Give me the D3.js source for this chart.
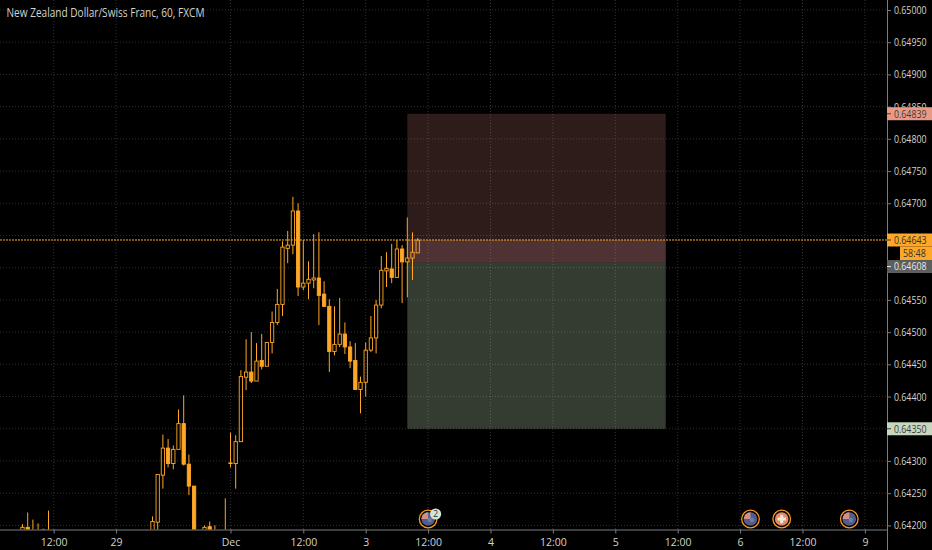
<!DOCTYPE html>
<html><head><meta charset="utf-8">
<script src="https://cdn.jsdelivr.net/npm/d3@7"></script>
<style>html,body{margin:0;padding:0;background:#000}svg{display:block}text{font-family:"Open Sans",sans-serif}</style>
</head><body><svg id="c" width="932" height="550"></svg>
<script>
// prices in points (price x 100000); null = bar lies below the visible range
const opens =[64190,64197,64185,64185,64192,64185,null,null,null,null,null,null,null,null,null,null,null,null,null,null,null,null,null,null,null,64190,64205,64278,64320,64296,64318,64358,64295,64261,null,64190,64198,64188,null,64188,64297,64296,64330,64430,64438,64424,64456,64447,64484,64515,64543,64630,64635,64688,64570,64576,64581,64584,64559,64540,64470,64481,64497,64477,64456,64411,64422,64472,64491,64542,64595,64598,64585,64629,64609,64615,64623];
const highs =[64202,64220,64209,64203,64195,64223,null,null,null,null,null,null,null,null,null,null,null,null,null,null,null,null,null,null,null,64214,64279,64341,64334,64324,64380,64402,64310,64261,null,64200,64206,64200,null,64242,64344,64340,64441,64489,64500,64483,64497,64484,64532,64567,64641,64657,64710,64700,64643,64610,64652,64655,64579,64551,64540,64553,64515,64486,64483,64431,64484,64525,64550,64618,64624,64637,64643,64635,64678,64655,64646];
const lows  =[64190,64190,64185,64185,64190,64185,null,null,null,null,null,null,null,null,null,null,null,null,null,null,null,null,null,null,null,64190,64190,64257,64290,64287,64318,64293,64247,64180,null,64190,64190,64185,null,64185,64290,64257,64330,64410,64421,64424,64442,64447,64467,64511,64525,64607,64621,64556,64565,64551,64568,64511,64539,64438,64464,64477,64466,64444,64411,64374,64400,64469,64467,64537,64570,64576,64584,64545,64554,64581,64623];
const closes=[64197,64190,64185,64185,64193,64185,null,null,null,null,null,null,null,null,null,null,null,null,null,null,null,null,null,null,null,64206,64279,64320,64296,64318,64358,64295,64261,64185,null,64197,64190,64188,null,64188,64296,64330,64431,64438,64424,64455,64447,64484,64515,64543,64632,64635,64688,64570,64576,64582,64584,64557,64540,64470,64481,64497,64477,64455,64411,64422,64472,64491,64542,64596,64599,64585,64629,64609,64615,64624,64643];

const priceTicks=[65000,64950,64900,64850,64800,64750,64700,64650,64600,64550,64500,64450,64400,64350,64300,64250,64200];
const coveredTicks=[64650,64600,64350];
const timeTickBars=[6,18,40,54,66,78,90,102,114,126,138,150,162];
const timeTickLabels=["12:00","29","Dec","12:00","3","12:00","4","12:00","5","12:00","6","12:00","9"];

const lastPrice=64643, countdown="58:48";
const stopPrice=64839, entryPrice=64608, targetPrice=64350;
const boxStartBar=74, boxEndBar=123.7;

const eventBars=[78,140,146,159];
const eventKinds=["NZ","NZ","CH","NZ"];
const eventBadgeText="2";
const titleText="New Zealand Dollar/Swiss Franc, 60, FXCM";

const W=932,H=550,plotR=887,plotB=529.5;
const x=d3.scaleLinear().domain([0,162]).range([22.5,864.9]);
const y=d3.scaleLinear().domain([64200,65000]).range([525.4,10]);
const fmt=v=>d3.format(".5f")(v/1e5);
const ORANGE="#ffa726",GRID="#313131",AXIS="#7b7d80",TXT="#d2d3ce";

const svg=d3.select("#c");
svg.append("rect").attr("width",W).attr("height",H).attr("fill","#000");
const defs=svg.append("defs");
defs.append("clipPath").attr("id","plot").append("rect").attr("width",plotR).attr("height",plotB);

const plot=svg.append("g").attr("clip-path","url(#plot)");
// grid
plot.selectAll(".gh").data(priceTicks).join("line").attr("x1",0).attr("x2",plotR)
  .attr("y1",d=>y(d)).attr("y2",d=>y(d)).attr("stroke",GRID).attr("stroke-dasharray","1 2");
plot.selectAll(".gv").data(timeTickBars).join("line").attr("y1",0).attr("y2",plotB)
  .attr("x1",d=>x(d)).attr("x2",d=>x(d)).attr("stroke",GRID).attr("stroke-dasharray","1 2");

// position tool
const bx=x(boxStartBar),bw=x(boxEndBar)-x(boxStartBar);
plot.append("rect").attr("x",bx).attr("width",bw).attr("y",y(stopPrice)).attr("height",y(entryPrice)-y(stopPrice)).attr("fill","#e48c85").attr("opacity",.2);
plot.append("rect").attr("x",bx).attr("width",bw).attr("y",y(lastPrice)).attr("height",y(entryPrice)-y(lastPrice)).attr("fill","#e8a0a8").attr("opacity",.18);
plot.append("rect").attr("x",bx).attr("width",bw).attr("y",y(entryPrice)).attr("height",y(targetPrice)-y(entryPrice)).attr("fill","#bcd4ae").attr("opacity",.28);

// candles
const idx=d3.range(opens.length).filter(i=>opens[i]!==null);
const bw2=1.65;
const cg=plot.append("g");
cg.selectAll(".wh").data(idx).join("line").attr("x1",i=>x(i)).attr("x2",i=>x(i))
  .attr("y1",i=>y(highs[i])).attr("y2",i=>y(Math.max(opens[i],closes[i])))
  .attr("stroke",ORANGE).attr("stroke-width",1);
cg.selectAll(".wl").data(idx).join("line").attr("x1",i=>x(i)).attr("x2",i=>x(i))
  .attr("y1",i=>y(Math.min(opens[i],closes[i]))).attr("y2",i=>y(lows[i]))
  .attr("stroke",ORANGE).attr("stroke-width",1);
cg.selectAll(".b").data(idx).join("rect")
  .attr("x",i=>x(i)-bw2).attr("width",bw2*2)
  .attr("y",i=>y(Math.max(opens[i],closes[i])))
  .attr("height",i=>Math.max(.6,Math.abs(y(opens[i])-y(closes[i]))))
  .attr("fill",i=>closes[i]<opens[i]?ORANGE:"none")
  .attr("stroke",ORANGE).attr("stroke-width",.9);

// last price line
plot.append("line").attr("x1",0).attr("x2",plotR).attr("y1",y(lastPrice)).attr("y2",y(lastPrice))
  .attr("stroke",ORANGE).attr("stroke-dasharray","2 1");

// axes
const squeeze=.8;
const right=svg.append("g").attr("transform",`translate(${plotR},0)`)
  .call(d3.axisRight(y).tickValues(priceTicks).tickFormat(fmt).tickSize(4).tickPadding(3));
right.select(".domain").attr("stroke",AXIS).attr("d",`M0.5,0V${H}`);
right.selectAll(".tick line").attr("stroke",AXIS);
right.selectAll(".tick text").attr("fill",TXT).attr("font-size",11).attr("font-family","Open Sans")
  .attr("x",0).attr("transform",`translate(7,0) scale(${squeeze},1)`);
// labels fully hidden behind a price tag in the original
right.selectAll(".tick").filter(d=>coveredTicks.includes(d)).select("text").remove();

const bottom=svg.append("g").attr("transform",`translate(0,${plotB})`)
  .call(d3.axisBottom(x).tickValues(timeTickBars).tickFormat((d,i)=>timeTickLabels[i]).tickSize(4).tickPadding(5));
bottom.select(".domain").attr("stroke",AXIS).attr("d",`M0,0.5H${plotR}`);
bottom.selectAll(".tick line").attr("stroke",AXIS);
bottom.selectAll(".tick text").attr("fill",TXT).attr("font-size",10.5).attr("font-family","Open Sans");

// price tags
function tag(v,bg,fg,shift){
  const g=svg.append("g");
  const cy=y(v)+shift;
  g.append("rect").attr("x",plotR).attr("width",W-plotR).attr("y",cy-6.5).attr("height",13).attr("fill",bg);
  g.append("line").attr("x1",plotR).attr("x2",plotR+4).attr("y1",cy).attr("y2",cy).attr("stroke",fg);
  g.append("text").attr("transform",`translate(${plotR+7},${cy+3.9}) scale(${squeeze},1)`).attr("fill",fg).attr("font-size",11).text(fmt(v));
}
tag(stopPrice,"#e99a87","#3d3d3d",0);
tag(targetPrice,"#c6d6bf","#3d3d3d",0);
tag(entryPrice,"#5d5f5e","#e6e6e6",4);
tag(lastPrice,ORANGE,"#333",0);
svg.append("rect").attr("x",900).attr("width",32).attr("y",y(lastPrice)+6.5).attr("height",13.5).attr("fill",ORANGE);
svg.append("text").attr("transform",`translate(903,${y(lastPrice)+17}) scale(.85,1)`).attr("fill","#333").attr("font-size",10.5).text(countdown);

// title
svg.append("text").attr("x",6.5).attr("y",16.5).attr("fill",TXT).attr("font-size",12.5).attr("font-weight",500)
  .attr("textLength",198).attr("lengthAdjust","spacingAndGlyphs").text(titleText);

// events
const ey=519;
eventBars.forEach((b,k)=>{
  const g=svg.append("g").attr("transform",`translate(${x(b)},${ey})`);
  g.append("circle").attr("r",8.8).attr("fill","#000").attr("stroke","#f79a1f").attr("stroke-width",1.3);
  if(eventKinds[k]==="NZ"){
    g.append("circle").attr("r",6.8).attr("fill","#525c8e");
    g.append("path").attr("d",d3.arc()({innerRadius:0,outerRadius:6.8,startAngle:-Math.PI/2,endAngle:0})).attr("fill","#cf9088");
    g.append("circle").attr("cx",1.5).attr("cy",1).attr("r",2.2).attr("fill","#717ca8");
  }else{
    g.append("circle").attr("r",6.8).attr("fill","#e08a66");
    g.append("path").attr("d","M-1.5,-4.2H1.5V-1.5H4.2V1.5H1.5V4.2H-1.5V1.5H-4.2V-1.5H-1.5Z").attr("fill","#f3e6d6");
  }
});
const bg=svg.append("g").attr("transform",`translate(${x(eventBars[0])+7.5},514)`);
bg.append("circle").attr("r",5.6).attr("fill","#d3e6d3");
bg.append("text").attr("text-anchor","middle").attr("y",3.3).attr("font-size",9).attr("fill","#333").text(eventBadgeText);
</script></body></html>
